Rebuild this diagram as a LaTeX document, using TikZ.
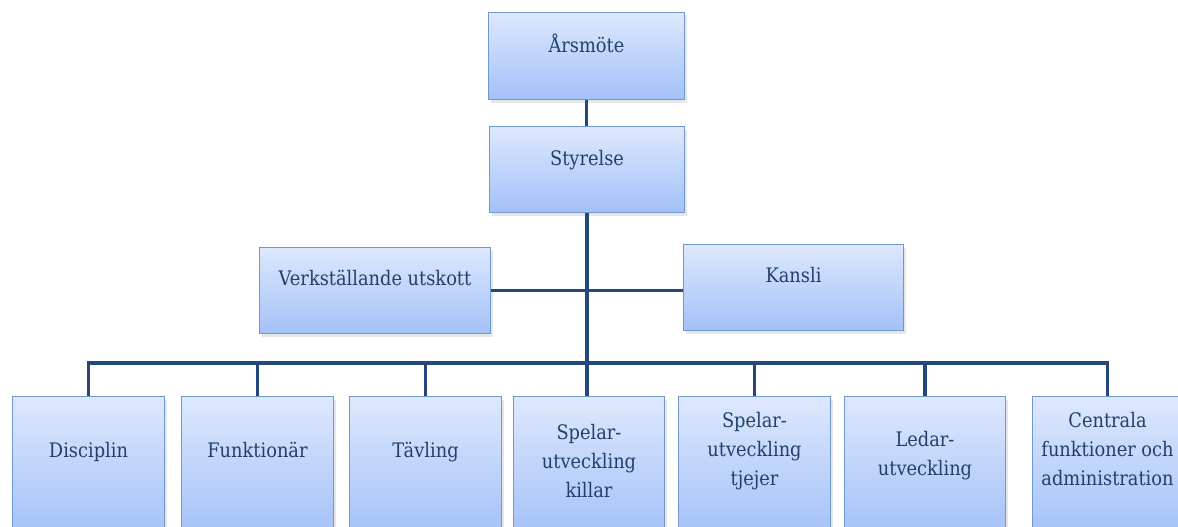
\documentclass[tikz,border=0pt]{standalone}
\usepackage{fontspec}
\setmainfont{DejaVu Serif}[FakeStretch=0.89]
\usetikzlibrary{shadows}
\definecolor{orgline}{HTML}{24487A}
\definecolor{boxtop}{HTML}{DDE8FD}
\definecolor{boxbottom}{HTML}{A3C1F8}
\definecolor{boxedge}{HTML}{7098CC}
\definecolor{boxtext}{HTML}{22406A}
\newcommand{\orgtext}[4]{\parbox[c][#2][t]{#1}{\centering\rule{0pt}{#3}#4}}

\begin{document}
\begin{tikzpicture}[x=1pt, y=-1pt,
        orgbox/.style={draw=boxedge, line width=1pt, top color=boxtop, bottom color=boxbottom,
            text=boxtext, inner sep=0pt, anchor=north west, font=\fontsize{20}{29}\selectfont,
            drop shadow={opacity=0.2, shadow xshift=2pt, shadow yshift=-3pt}},
        orgline/.style={draw=orgline, line width=3.5pt}]
                \useasboundingbox (0, 0) rectangle (1178, 527);
                \clip (0, 0) rectangle (1178, 527);

                \node[orgbox] (arsmote) at (488, 12) {\orgtext{196pt}{87pt}{40pt}{Årsmöte}};
                \node[orgbox] (styrelse) at (489, 126) {\orgtext{195pt}{86pt}{39pt}{Styrelse}};
                \node[orgbox] (verk) at (259, 247) {\orgtext{231pt}{86pt}{38pt}{Verkställande utskott}};
                \node[orgbox] (kansli) at (683, 244) {\orgtext{220pt}{86pt}{38pt}{Kansli}};

                \node[orgbox] (disciplin) at (12, 396) {\orgtext{152pt}{140pt}{61pt}{Disciplin}};
                \node[orgbox] (funktionar) at (181, 396) {\orgtext{152pt}{140pt}{61pt}{Funktionär}};
                \node[orgbox] (tavling) at (349, 396) {\orgtext{152pt}{140pt}{61pt}{Tävling}};
                \node[orgbox] (killar) at (513, 396) {\orgtext{151pt}{140pt}{43pt}{Spelar-\\utveckling\\killar}};
                \node[orgbox] (tjejer) at (678, 396) {\orgtext{152pt}{140pt}{31pt}{Spelar-\\utveckling\\tjejer}};
                \node[orgbox] (ledar) at (844, 396) {\orgtext{161pt}{140pt}{50pt}{Ledar-\\utveckling}};
                \node[orgbox] (centrala) at (1032, 396) {\orgtext{150pt}{140pt}{31pt}{Centrala\\funktioner och\\administration}};

                \coordinate (bus) at (585, 363);
                \draw[orgline] (arsmote.south) -- (arsmote.south |- styrelse.north);
                \draw[orgline] (styrelse.south) -- (styrelse.south |- killar.north);
                \draw[orgline] (verk.east) -- (kansli.west |- verk.east);
                \draw[orgline] (disciplin.north) |- (bus) -| (centrala.north);
                \foreach \n in {funktionar, tavling, tjejer, ledar}
                    \draw[orgline] (\n.north) -- (\n.north |- bus);
            \end{tikzpicture}
\end{document}
